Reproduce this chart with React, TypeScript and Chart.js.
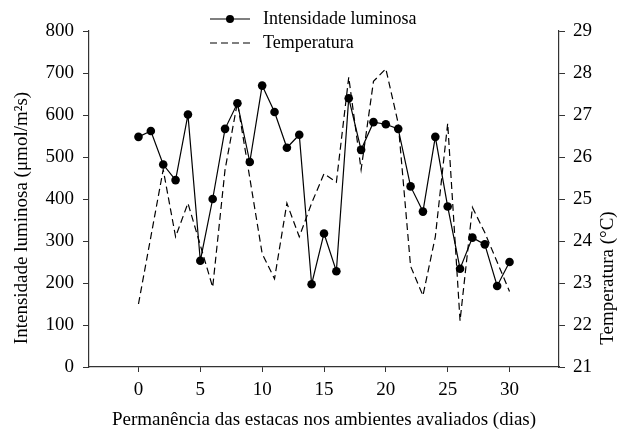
import React, { useEffect, useRef } from "react";
import { Chart, registerables } from "chart.js";
Chart.register(...registerables);

const days = [0, 1, 2, 3, 4, 5, 6, 7, 8, 9, 10, 11, 12, 13, 14, 15, 16, 17, 18, 19, 20, 21, 22, 23, 24, 25, 26, 27, 28, 29, 30];
const lightValues = [548, 562, 482, 445, 601, 253, 400, 567, 628, 488, 670, 607, 522, 553, 197, 318, 228, 640, 517, 583, 578, 567, 430, 370, 548, 382, 234, 308, 292, 193, 250];
const tempValues = [22.5, 24.1, 25.7, 24.1, 24.9, 23.9, 22.9, 25.7, 27.3, 25.5, 23.7, 23.1, 24.9, 24.1, 24.9, 25.6, 25.4, 27.9, 25.7, 27.8, 28.1, 26.8, 23.4, 22.7, 24.1, 26.8, 22.1, 24.8, 24.2, 23.5, 22.8];
const xTickValues = [0, 5, 10, 15, 20, 25, 30];

const seriesNames = ["Intensidade luminosa", "Temperatura"];
const xTitle = "Permanência das estacas nos ambientes avaliados (dias)";
const yTitle = "Intensidade luminosa (μmol/m²s)";
const y1Title = "Temperatura (°C)";

const FONT = "'Liberation Serif', 'Times New Roman', serif";
const AXIS = "#333";

const textPlugin = {
  id: "customText",
  afterDraw(chart: any) {
    const ctx = chart.ctx as CanvasRenderingContext2D;
    const area = chart.chartArea;
    ctx.save();
    ctx.fillStyle = "#000";
    ctx.strokeStyle = "#000";
    // x title
    ctx.font = `19px ${FONT}`;
    ctx.textAlign = "center";
    ctx.textBaseline = "middle";
    ctx.fillText(xTitle, (area.left + area.right) / 2, 420);
    // left title
    ctx.save();
    ctx.translate(22, 218);
    ctx.rotate(-Math.PI / 2);
    ctx.fillText(yTitle, 0, 0);
    ctx.restore();
    // right title
    ctx.save();
    ctx.translate(608, 278);
    ctx.rotate(-Math.PI / 2);
    ctx.fillText(y1Title, 0, 0);
    ctx.restore();
    // legend
    ctx.font = `18px ${FONT}`;
    ctx.textAlign = "left";
    const r1 = 19, r2 = 43;
    ctx.lineWidth = 1.2;
    ctx.beginPath();
    ctx.moveTo(210, r1);
    ctx.lineTo(250, r1);
    ctx.stroke();
    ctx.beginPath();
    ctx.arc(230, r1, 4, 0, Math.PI * 2);
    ctx.fill();
    ctx.fillText(seriesNames[0], 263, r1);
    ctx.setLineDash([7, 4]);
    ctx.beginPath();
    ctx.moveTo(210, r2);
    ctx.lineTo(250, r2);
    ctx.stroke();
    ctx.setLineDash([]);
    ctx.fillText(seriesNames[1], 263, r2);
    ctx.restore();
  },
};

export default function App() {
  const ref = useRef<HTMLCanvasElement | null>(null);
  useEffect(() => {
    document.body.style.margin = "0";
    const canvas = ref.current!;
    const chart = new Chart(canvas, {
      type: "line",
      data: {
        datasets: [
          {
            label: seriesNames[0],
            data: days.map((d, i) => ({ x: d, y: lightValues[i] })),
            yAxisID: "y",
            borderColor: "#000",
            backgroundColor: "#000",
            borderWidth: 1.2,
            pointRadius: 4.3,
            pointBackgroundColor: "#000",
            pointBorderWidth: 0,
            tension: 0,
          },
          {
            label: seriesNames[1],
            data: days.map((d, i) => ({ x: d, y: tempValues[i] })),
            yAxisID: "y1",
            borderColor: "#000",
            borderWidth: 1.2,
            borderDash: [7, 4],
            pointRadius: 0,
            tension: 0,
          },
        ],
      },
      options: {
        animation: false,
        responsive: false,
        layout: { padding: { top: 31, left: 0, right: 0, bottom: 0 } },
        plugins: { legend: { display: false }, tooltip: { enabled: false } },
        scales: {
          x: {
            type: "linear",
            min: -4,
            max: 34,
            afterBuildTicks: (s: any) => {
              s.ticks = xTickValues.map((v) => ({ value: v }));
            },
            afterFit: (s: any) => {
              s.height = 67;
            },
            ticks: { font: { family: FONT, size: 19 }, color: "#000", padding: 7, maxRotation: 0 },
            grid: { drawOnChartArea: false, drawTicks: true, tickLength: 5, color: AXIS },
            border: { display: true, color: AXIS, width: 1.2 },
          },
          y: {
            position: "left",
            min: 0,
            max: 800,
            ticks: { stepSize: 100, font: { family: FONT, size: 19 }, color: "#000", padding: 9 },
            afterFit: (s: any) => {
              s.width = 89;
            },
            grid: { drawOnChartArea: false, drawTicks: true, tickLength: 6, color: AXIS },
            border: { display: true, color: AXIS, width: 1.2 },
          },
          y1: {
            position: "right",
            min: 21,
            max: 29,
            ticks: { stepSize: 1, font: { family: FONT, size: 19 }, color: "#000", padding: 8 },
            afterFit: (s: any) => {
              s.width = 74;
            },
            grid: { drawOnChartArea: false, drawTicks: true, tickLength: 6, color: AXIS },
            border: { display: true, color: AXIS, width: 1.2 },
          },
        },
      },
      plugins: [textPlugin],
    });
    return () => chart.destroy();
  }, []);
  return <canvas ref={ref} width={633} height={434} style={{ display: "block" }} />;
}
